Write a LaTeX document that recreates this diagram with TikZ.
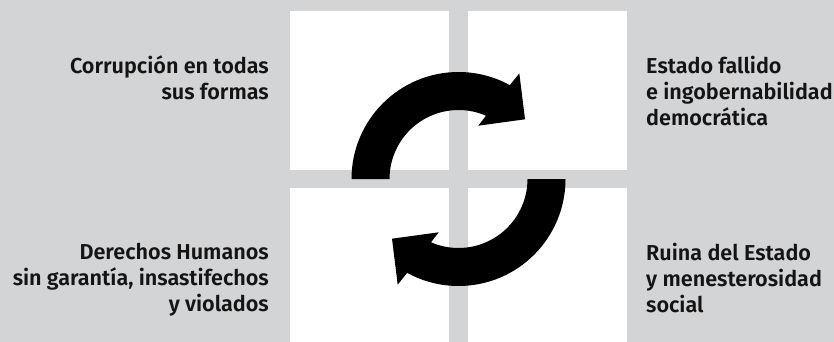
\documentclass[tikz,border=0pt]{standalone}
\usepackage{fontspec}
\setmainfont{Fira Sans}[BoldFont={Fira Sans SemiBold}]
\definecolor{bggrey}{RGB}{211,212,214}
\definecolor{txt}{RGB}{20,20,20}
\begin{document}
\begin{tikzpicture}[x=1pt,y=1pt,
  sq/.style={fill=white,minimum size=159pt,inner sep=0pt,outer sep=0pt,draw=none},
  lbl/.style={inner sep=0pt,font=\fontsize{21.6}{26.2}\selectfont\bfseries,text=txt},
  lbll/.style={lbl,align=right,anchor=north east},
  lblr/.style={lbl,align=left,anchor=north west}]
\useasboundingbox (0,0) rectangle (834,-342);
\clip (0,0) rectangle (834,-342);
\fill[bggrey] (0,0) rectangle (834,-342);
% white squares
\node[sq] (tl) at (369.5,-90.5) {};
\node[sq] (tr) at (547.5,-90.5) {};
\node[sq] (bl) at (369.5,-267.5) {};
\node[sq] (br) at (547.5,-267.5) {};
% circular arrows
\coordinate (c) at (458.5,-179);
\begin{scope}[shift={(c)}]
  \fill[black] (180:107) arc[start angle=180,end angle=61.3,radius=107]
     -- (60.8,105.7) -- (66.5,59.7) -- (19.8,53.3)
     -- (66.5:69) arc[start angle=66.5,end angle=180,radius=69] -- cycle;
  \begin{scope}[rotate=180]
  \fill[black] (180:107) arc[start angle=180,end angle=61.3,radius=107]
     -- (60.8,105.7) -- (66.5,59.7) -- (19.8,53.3)
     -- (66.5:69) arc[start angle=66.5,end angle=180,radius=69] -- cycle;
  \end{scope}
\end{scope}
% labels
\node[lbll] (t1) at (269,-55) {Corrupción en todas\\sus formas};
\node[lblr] (t2) at (646,-56) {Estado fallido\\e ingobernabilidad\\democrática};
\node[lbll] (t3) at (269,-243) {Derechos Humanos\\sin garantía, insastifechos\\y violados};
\node[lblr] (t4) at (646,-243) {Ruina del Estado\\y menesterosidad\\social};
\end{tikzpicture}
\end{document}
